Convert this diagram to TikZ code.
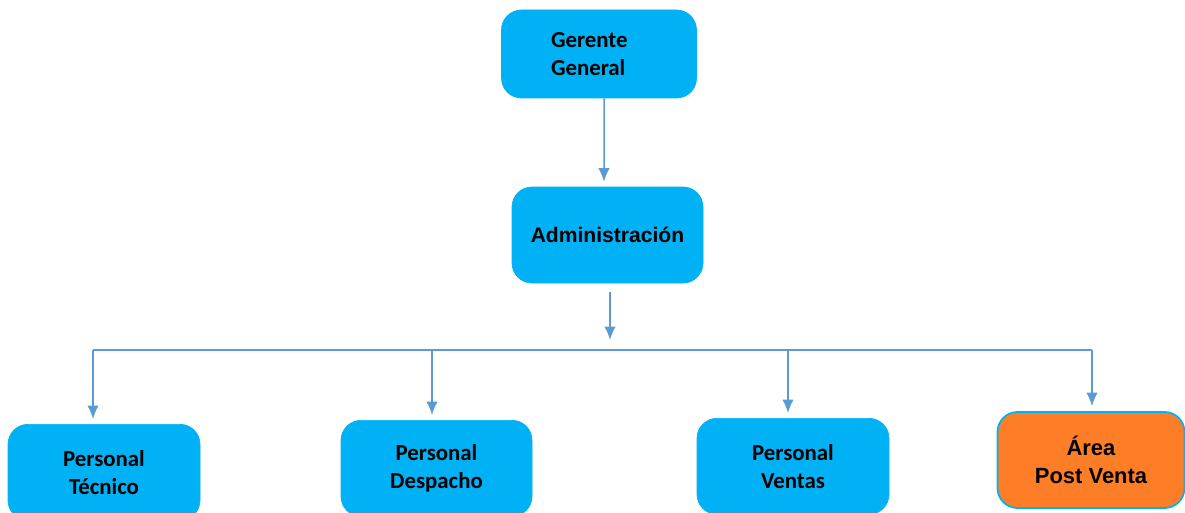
\documentclass[tikz,border=0pt]{standalone}
\usepackage{fontspec}
\setmainfont{Carlito}
\newfontfamily\arialfont{Liberation Sans}
\usetikzlibrary{positioning,arrows,arrows.meta}
\definecolor{boxblue}{RGB}{0,178,245}
\definecolor{boxorange}{RGB}{253,126,38}
\definecolor{linkblue}{RGB}{91,155,213}
\tikzset{unit/.style={rectangle,rounded corners=0.4cm,fill=boxblue,draw=boxblue,minimum width=3.85cm,minimum height=1.92cm,align=center,font=\bfseries\fontsize{13}{16}\selectfont}}
\tikzset{unitarial/.style={unit,font=\arialfont\bfseries\fontsize{12}{16}\selectfont}}
\tikzset{line/.style={linkblue,line width=0.85pt}}
\tikzset{link/.style={line,-{Latex[length=0.27cm,width=0.23cm]}}}

\begin{document}
\begin{tikzpicture}
  \useasboundingbox (0,0) rectangle (23.7,10.24);
  \clip (0,0) rectangle (23.7,10.24);

  \node[unit, minimum width=3.9cm, minimum height=1.76cm, text width=1.92cm, align=left] (gg) at (11.98,9.16) {Gerente\\General};
  \node[unitarial, minimum width=3.82cm] (adm) at (12.15,5.54) {Administración};

  \node[unit, anchor=north, minimum width=3.84cm] (pt) at (2.08,1.76) {Personal\\Técnico};
  \node[unit, anchor=north, minimum width=3.82cm] (pd) at (8.73,1.84) {Personal\\Despacho};
  \node[unit, anchor=north, minimum width=3.84cm] (pv) at (15.86,1.88) {Personal\\Ventas};
  \node[unitarial, fill=boxorange, line width=1pt, minimum width=3.74cm, font=\arialfont\bfseries\fontsize{12.5}{16}\selectfont] (ap) at (21.82,1.04) {Área\\Post Venta};

  \coordinate (bus) at (12.2,3.24);

  \draw[link, shorten >=0.1cm] ([xshift=0.1cm]gg.south) -- ([xshift=-0.07cm]adm.north);
  \draw[link, shorten <=0.18cm, shorten >=0.2cm] (adm.south -| bus) -- (bus);

  \foreach \n/\s in {pt/-0.22,pd/-0.09,pv/-0.1,ap/0.02}{
    \coordinate (top\n) at ([xshift=\s cm]\n.north);
    \draw[link, shorten >=0.1cm] (top\n |- bus) -- (top\n);
  }
  \draw[line] (toppt |- bus) -- (topap |- bus);
\end{tikzpicture}
\end{document}
